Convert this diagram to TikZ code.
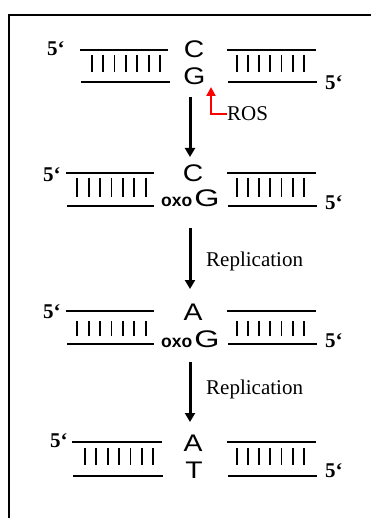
\documentclass[tikz,border=0pt]{standalone}
\usepackage{fontspec}
\setmainfont{Liberation Serif}
\newfontfamily\sansfam{Liberation Sans}
\usetikzlibrary{arrows.meta}
% sans letters of the base pairs are set slightly widened
\newcommand\wideletter[1]{\scalebox{1.18}[1]{#1}}
\newcommand\oxoletter[1]{\kern2pt\scalebox{1.35}[1]{#1}}

\tikzset{
  strand/.style={line width=1.8pt},
  bondtick/.style={line width=1.8pt},
  flow/.style={line width=3pt, -{Triangle[width=10pt,length=9pt]}},
  rosarrow/.style={red, line width=2pt, -{Triangle[width=9pt,length=9pt]}},
  prime/.style={font=\bfseries\fontsize{21}{21}\selectfont, inner sep=0pt, anchor=base west},
  baseletter/.style={font=\sansfam\fontsize{24}{24}\selectfont, inner sep=0pt, anchor=base},
  steplabel/.style={font=\fontsize{21}{21}\selectfont, inner sep=0pt, anchor=base west},
}

\begin{document}
\begin{tikzpicture}[x=1pt,y=-1pt]
\useasboundingbox (0,0) rectangle (371,518);

% frame
\draw[line width=2.3pt] (9,520) -- (9,15) -- (373,15);

% double strands with base-pair ticks, one row per stage
\foreach \yt/\yb/\ta/\tb/\ba/\bb/\ka/\kb/\kt/\kd in {
  50/82/80/168/81/170/91.7/160/55/72,
  173/206/66/154/67/154/77.3/145.7/178/197,
  311/344/66/154/67/154/77.3/145.7/321/336,
  442/476/72/162/73/163/85/153.3/448/465}{
  \draw[strand] (\ta,\yt) -- (\tb,\yt);
  \draw[strand] (\ba,\yb) -- (\bb,\yb);
  \draw[strand] (227,\yt) -- (316,\yt);
  \draw[strand] (228,\yb) -- (317,\yb);
  \foreach \i in {0,...,6}{
    \draw[bondtick] ({\ka+\i*(\kb-\ka)/6},\kt) -- ({\ka+\i*(\kb-\ka)/6},\kd);
    \draw[bondtick] ({236.7+\i*67.3/6},\kt) -- ({236.7+\i*67.3/6},\kd);
  }
}

% stage 1: C:G
\node[prime] (p1l) at (47,56) {5‘};
\node[baseletter] (c1) at (194,58) {\wideletter{C}};
\node[baseletter] (g1) at (194.5,85) {\wideletter{G}};
\node[prime] (p1r) at (325,90) {5‘};

% stage 2: C:oxoG
\node[prime] (p2l) at (43,182) {5‘};
\node[baseletter] (c2) at (193,182) {\wideletter{C}};
\node[baseletter, anchor=base west] (og2) at (161,207) {{\bfseries\fontsize{17.5}{17.5}\selectfont oxo}\oxoletter{G}};
\node[prime] (p2r) at (325,210) {5‘};

% stage 3: A:oxoG
\node[prime] (p3l) at (43,318) {5‘};
\node[baseletter] (a3) at (193,320) {\wideletter{A}};
\node[baseletter, anchor=base west] (og3) at (161,347) {{\bfseries\fontsize{17.5}{17.5}\selectfont oxo}\oxoletter{G}};
\node[prime] (p3r) at (325,347) {5‘};

% stage 4: A:T
\node[prime] (p4l) at (50,447) {5‘};
\node[baseletter] (a4) at (193,451) {\wideletter{A}};
\node[baseletter] (t4) at (194,478) {\wideletter{T}};
\node[prime] (p4r) at (325,477) {5‘};

% oxidative attack
\node[steplabel] (ros) at (227,121) {ROS};
\coordinate (rostip) at (211,87);
\draw[rosarrow] (ros.west) -| (rostip);

% step arrows
\coordinate (s1a) at (190,97);  \coordinate (s1b) at (190,157);
\coordinate (s2a) at (190,228); \coordinate (s2b) at (190,289);
\coordinate (s3a) at (190,362); \coordinate (s3b) at (190,422);
\draw[flow] (s1a) -- (s1b);
\draw[flow] (s2a) -- (s2b);
\draw[flow] (s3a) -- (s3b);

\node[steplabel] (rep1) at (206,266) {Replication};
\node[steplabel] (rep2) at (206,394) {Replication};
\end{tikzpicture}
\end{document}
